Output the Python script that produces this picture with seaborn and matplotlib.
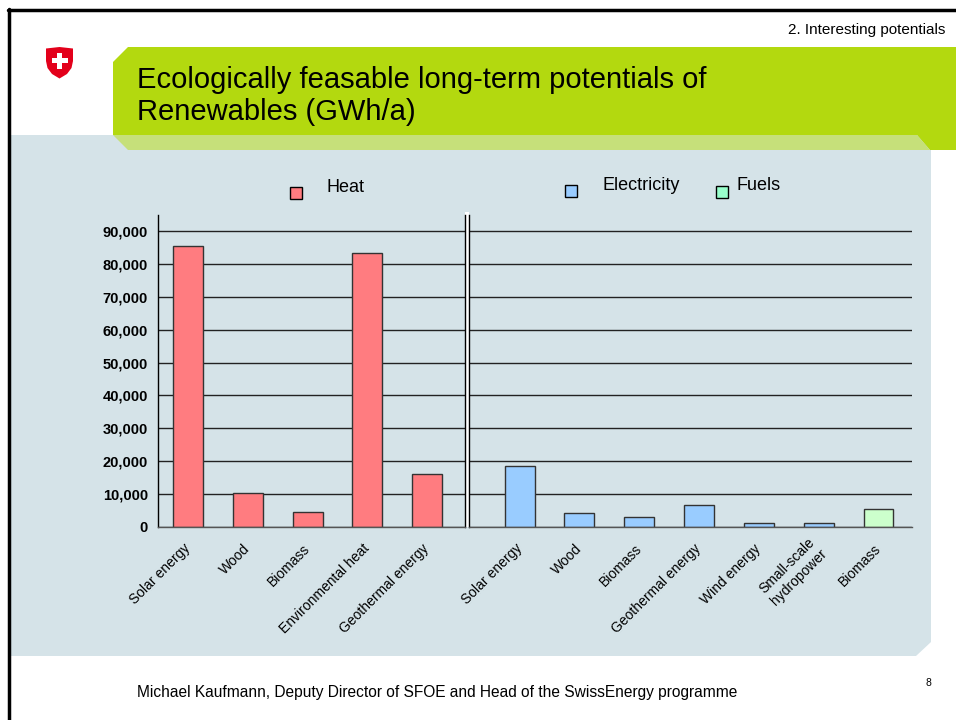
import matplotlib
matplotlib.use("Agg")
import matplotlib.pyplot as plt
from matplotlib.patches import Polygon, Rectangle
from matplotlib.lines import Line2D
from matplotlib.ticker import FuncFormatter
import seaborn as sns
import pandas as pd

# values (GWh/a)
heat_sources = ['Solar energy', 'Wood', 'Biomass', 'Environmental heat', 'Geothermal energy']
heat_values = [85500, 10400, 4400, 83500, 16000]

elec_sources = ['Solar energy', 'Wood', 'Biomass', 'Geothermal energy', 'Wind energy',
                'Small-scale\nhydropower']
elec_values = [18400, 4100, 3000, 6600, 1100, 1000]

fuel_sources = ['Biomass']
fuel_values = [5300]

groups = ['Heat', 'Electricity', 'Fuels']
bar_colors = {'Heat': '#ff7c80', 'Electricity': '#99ccff', 'Fuels': '#ccffcc'}
legend_colors = {'Heat': '#ff7c80', 'Electricity': '#99ccff', 'Fuels': '#99ffcc'}

sns.set_style("white")
plt.rcParams['font.family'] = ['Liberation Sans', 'DejaVu Sans']
plt.rcParams['text.color'] = 'black'
plt.rcParams['xtick.color'] = 'black'
plt.rcParams['ytick.color'] = 'black'

W, H = 956, 720
fig = plt.figure(figsize=(W / 100, H / 100), dpi=100)


def fp(x, y):
    # pixel position (from top-left) -> figure fraction
    return (x / W, 1 - y / H)


def poly(points, color, z):
    fig.patches.append(Polygon([fp(*p) for p in points], closed=True, facecolor=color,
                               edgecolor='none', transform=fig.transFigure, zorder=z))


# slide decoration
poly([(10, 135), (931, 135), (931, 642), (916, 656), (10, 656)], '#d5e3e8', -10)
poly([(113, 62), (128, 47), (956, 47), (956, 150), (930, 150), (917, 135), (113, 135)], '#b3d90f', -9)
poly([(113, 135), (917, 135), (930, 150), (128, 150)], '#c6e07a', -9)
poly([(465, 212), (469, 212), (469, 527), (465, 527)], 'white', -8)

fig.add_artist(Line2D([8 / W, 1], [1 - 9.5 / H] * 2, color='black', lw=2.5, transform=fig.transFigure))
fig.add_artist(Line2D([8.5 / W] * 2, [0, 1 - 8.5 / H], color='black', lw=2.5, transform=fig.transFigure))

# swiss shield
poly([(46, 48.5), (59.5, 47), (73, 48.5), (73, 61), (71.5, 68), (67, 74), (59.5, 78.5),
      (52, 74), (47.5, 68), (46, 61)], '#e3001b', -7)
poly([(57, 52.5), (62, 52.5), (62, 58), (67.5, 58), (67.5, 63), (62, 63), (62, 68.5),
      (57, 68.5), (57, 63), (51.5, 63), (51.5, 58), (57, 58)], 'white', -6)

fig.text(*fp(945, 30), '2. Interesting potentials', ha='right', va='center', fontsize=11)
fig.text(*fp(137, 96), 'Ecologically feasable long-term potentials of\nRenewables (GWh/a)',
         ha='left', va='center', fontsize=21, linespacing=1.2)
fig.text(*fp(137, 692), 'Michael Kaufmann, Deputy Director of SFOE and Head of the SwissEnergy programme',
         ha='left', va='center', fontsize=11.2)
fig.text(*fp(928, 683), '8', ha='center', va='center', fontsize=7.5)

# legend drawn by hand, like the slide
legend_pos = {'Heat': (290, 187, 327, 187), 'Electricity': (565, 185, 603, 185),
              'Fuels': (716, 186, 736, 185)}
for g in groups:
    sx, sy, tx, ty = legend_pos[g]
    fig.patches.append(Rectangle(fp(sx, sy + 12), 12 / W, 12 / H, facecolor=legend_colors[g],
                                 edgecolor='black', lw=1, transform=fig.transFigure))
    fig.text(*fp(tx, ty), g, ha='left', va='center', fontsize=13)

heat_df = pd.DataFrame({'key': [f'h{i}' for i in range(len(heat_sources))],
                        'value': heat_values, 'group': 'Heat'})
right_df = pd.DataFrame({
    'key': [f'e{i}' for i in range(len(elec_sources))] + [f'f{i}' for i in range(len(fuel_sources))],
    'value': elec_values + fuel_values,
    'group': ['Electricity'] * len(elec_sources) + ['Fuels'] * len(fuel_sources)})

y0, y1 = 526.7, 214.9
ax1 = fig.add_axes([158 / W, 1 - y0 / H, (464.5 - 158) / W, (y0 - y1) / H])
ax2 = fig.add_axes([469 / W, 1 - y0 / H, (912 - 469) / W, (y0 - y1) / H], sharey=ax1)

for ax, df, names in [(ax1, heat_df, heat_sources), (ax2, right_df, elec_sources + fuel_sources)]:
    ax.set_facecolor('none')
    sns.barplot(data=df, x='key', y='value', hue='group', palette=bar_colors, dodge=False,
                width=0.5, saturation=1, edgecolor='#333333', linewidth=1, legend=False, ax=ax)
    ax.set_xticks(range(len(names)))
    ax.set_xticklabels(names, rotation=45, ha='right', va='center', rotation_mode='anchor',
                       fontsize=10, multialignment='center')
    ax.tick_params(axis='x', length=0, pad=14)
    ax.set_xlabel('')
    ax.set_ylabel('')
    ax.yaxis.grid(True, color='#222222', lw=1)
    ax.set_axisbelow(True)
    for s in ax.spines.values():
        s.set_color('black')
        s.set_linewidth(1)
    ax.spines['top'].set_visible(False)
    ax.spines['bottom'].set_color('#555555')

ax1.set_xlim(-0.507, 4.627)
ax2.set_xlim(-0.846, 6.56)
ax1.set_ylim(0, 95000)
ax1.set_yticks(range(0, 90001, 10000))
ax1.yaxis.set_major_formatter(FuncFormatter(lambda v, p: f'{int(v):,}'))
ax1.tick_params(axis='y', length=4.3, width=1, pad=3, labelsize=10.5)
for lab in ax1.get_yticklabels():
    lab.set_fontweight('bold')
ax2.tick_params(axis='y', length=0, labelleft=False)
ax2.spines['right'].set_visible(False)

fig.savefig('out.png', dpi=100)
